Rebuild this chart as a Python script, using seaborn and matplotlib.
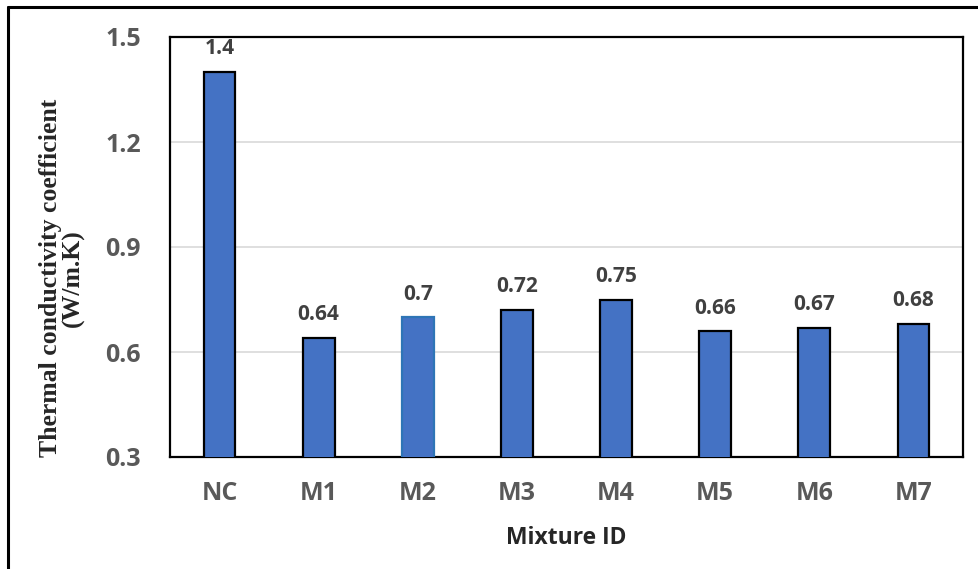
import matplotlib
matplotlib.use("Agg")
import matplotlib.pyplot as plt
import seaborn as sns
import pandas as pd
from matplotlib.lines import Line2D

mixtures = ["NC", "M1", "M2", "M3", "M4", "M5", "M6", "M7"]
conductivity = [1.4, 0.64, 0.7, 0.72, 0.75, 0.66, 0.67, 0.68]
value_labels = ["1.4", "0.64", "0.7", "0.72", "0.75", "0.66", "0.67", "0.68"]
y_ticks = [0.3, 0.6, 0.9, 1.2, 1.5]

df = pd.DataFrame({"Mixture": mixtures, "k": conductivity})

sns.set_theme(style="white")
plt.rcParams["font.family"] = ["Open Sans", "DejaVu Sans"]

fig = plt.figure(figsize=(9.79, 5.69), dpi=100)
ax = fig.add_axes([170 / 979, 1 - 457 / 569, (963 - 170) / 979, (457 - 37) / 569])

sns.barplot(data=df, x="Mixture", y="k", color="#4472C4", saturation=1,
            width=0.32, ax=ax, zorder=3)

edge_colors = ["black", "black", "#2E75B6", "black", "black", "black", "black", "black"]
for patch, ec in zip(ax.patches, edge_colors):
    patch.set_edgecolor(ec)
    patch.set_linewidth(1.6)

ax.set_ylim(0.3, 1.5)
ax.set_yticks(y_ticks)
ax.set_yticklabels([f"{t:.1f}" for t in y_ticks])
ax.yaxis.grid(True, color="#D9D9D9", linewidth=1.2, zorder=0)
ax.set_axisbelow(True)

for s in ax.spines.values():
    s.set_visible(True)
    s.set_color("black")
    s.set_linewidth(1.6)

ax.tick_params(axis="both", length=0, labelsize=18, labelcolor="#595959")
ax.tick_params(axis="y", pad=21)
ax.tick_params(axis="x", pad=17)
for lab in ax.get_xticklabels() + ax.get_yticklabels():
    lab.set_fontweight("bold")

for patch, txt in zip(ax.patches, value_labels):
    x = patch.get_x() + patch.get_width() / 2
    ax.annotate(txt, (x, patch.get_height()), xytext=(0, 9), textcoords="offset points",
                ha="center", va="bottom", fontsize=15, fontweight="bold", color="#404040")

ax.set_xlabel("Mixture ID", fontsize=16.5, fontweight="bold", color="#262626", labelpad=15)
ax.set_ylabel("Thermal conductivity coefficient\n(W/m.K)", fontsize=18.5, fontweight="bold",
              family=["Liberation Serif", "DejaVu Serif"], color="#262626",
              linespacing=1.0)
ax.yaxis.set_label_coords(-0.107, 0.426)

# outer frame of the figure
fig.add_artist(Line2D([8 / 979, 8 / 979], [0, 1 - 7 / 569], transform=fig.transFigure,
                      color="black", linewidth=2.2))
fig.add_artist(Line2D([8 / 979, 1], [1 - 7 / 569, 1 - 7 / 569], transform=fig.transFigure,
                      color="black", linewidth=2.2))

fig.savefig("out.png", dpi=100, facecolor="white")
